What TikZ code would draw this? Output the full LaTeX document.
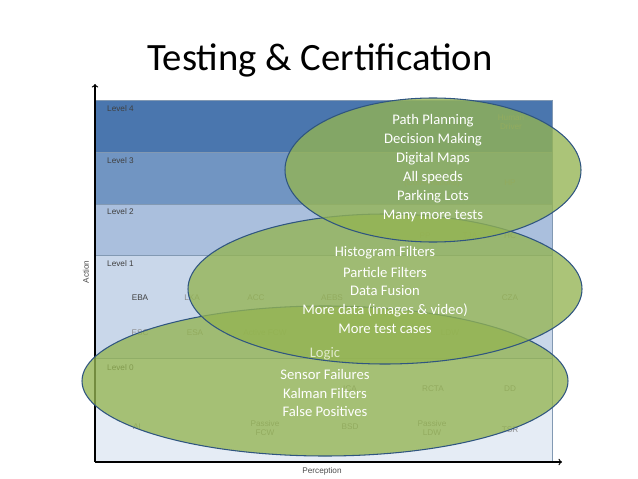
\documentclass[tikz,border=0pt]{standalone}
\usepackage{fontspec}
\setmainfont{Carlito}
\newfontfamily\chartfont{Liberation Sans}
\usetikzlibrary{positioning}
\definecolor{lvlfour}{HTML}{4A76AE}
\definecolor{lvlthree}{HTML}{7195C2}
\definecolor{lvltwo}{HTML}{AABFDD}
\definecolor{lvlone}{HTML}{C9D7EA}
\definecolor{lvlzero}{HTML}{E5ECF5}
\definecolor{blobfill}{HTML}{94B452}
\definecolor{blobline}{HTML}{2F5580}
\tikzset{
  band/.style = {draw=blobline!60, line width=0.5pt},
  tag/.style = {font=\chartfont\scriptsize, text=black!45, align=center, inner sep=0pt},
  lvl/.style = {font=\chartfont\scriptsize, text=black!75, anchor=west, inner sep=0pt},
  blob/.style = {fill=blobfill, fill opacity=0.78, draw=blobline, line width=0.9pt},
  say/.style = {font=\fontsize{12.5}{14}\selectfont, text=white, inner sep=0pt}
}
\begin{document}
\begin{tikzpicture}[x=0.03cm, y=-0.03cm]
\useasboundingbox (0,0) rectangle (638,479);
\node[font=\fontsize{33}{38}\selectfont] (title) at (320,60) {Testing \& Certification};
% levels
\fill[lvlfour] (95,100) rectangle (552,152);
\fill[lvlthree] (95,152) rectangle (552,204);
\fill[lvltwo] (95,204) rectangle (552,255);
\fill[lvlone] (95,255) rectangle (552,358);
\fill[lvlzero] (95,358) rectangle (552,462);
\foreach \yy in {100,152,204,255,358} \draw[band] (95,\yy) -- (552,\yy);
\draw[band] (552,100) -- (552,462);
\coordinate (origin) at (95,462);
\coordinate (ytop) at (95,84);
\coordinate (xend) at (562,462);
\draw[line width=1pt,->] (origin) -- (ytop);
\draw[line width=1pt,->] (origin) -- (xend);
\node[tag, rotate=90, text=black!70] (action) at (86,272) {Action};
\node[tag, text=black!70] (perc) at (322,471) {Perception};
\node[lvl] (l4) at (107,109) {Level 4};
\node[lvl] (l3) at (107,161) {Level 3};
\node[lvl] (l2) at (107,212) {Level 2};
\node[lvl] (l1) at (107,264) {Level 1};
\node[lvl] (l0) at (107,368) {Level 0};
\node[tag] (hd) at (511,122) {Human\\Driver};
\node[tag] (comb) at (432,183) {(Combinations)};
\node[tag] (hp) at (510,183) {HP};
\node[tag] (pa) at (378,236) {PA};
\node[tag] (pp) at (425,236) {PP};
\node[tag] (tja) at (470,236) {TJA};
\node[tag] (hc) at (510,236) {HC};
\node[tag, text=black!75] (eba) at (140,298) {EBA};
\node[tag] (lka) at (192,298) {LKA};
\node[tag] (acc) at (256,298) {ACC};
\node[tag] (aebs) at (332,298) {AEBS};
\node[tag] (cza) at (510,298) {CZA};
\node[tag] (esc) at (140,333) {ESC};
\node[tag] (esa) at (195,333) {ESA};
\node[tag] (afcw) at (265,333) {Active FCW};
\node[tag] (ldw) at (450,333) {LDW};
\node[tag] (ica) at (350,389) {ICA};
\node[tag] (rcta) at (433,389) {RCTA};
\node[tag] (dd) at (510,389) {DD};
\node[tag] (ai) at (137,427) {AI};
\node[tag] (pfcw) at (265,428) {Passive\\FCW};
\node[tag] (bsd) at (350,427) {BSD};
\node[tag] (pldw) at (432,428) {Passive\\LDW};
\node[tag] (tsr) at (510,430) {TSR};
% ellipses
\draw[blob] (325,381) ellipse (243 and 75);
\draw[blob] (385,289) ellipse (197 and 75);
\draw[blob] (433,170) ellipse (148 and 72);
% texts
\node[say] (pathp) at (433,121) {Path Planning};
\node[say] (decm) at (433,140) {Decision Making};
\node[say] (digm) at (433,159) {Digital Maps};
\node[say] (alls) at (433,178) {All speeds};
\node[say] (park) at (433,197) {Parking Lots};
\node[say] (many) at (433,216) {Many more tests};
\node[say] (hist) at (385,253) {Histogram Filters};
\node[say] (part) at (385,272) {Particle Filters};
\node[say] (fus) at (385,291) {Data Fusion};
\node[say] (more) at (385,310) {More data (images \& video)};
\node[say] (mtc) at (385,329) {More test cases};
\node[say, text=white!70!blobfill] (logic) at (325,354) {Logic};
\node[say] (sens) at (325,374) {Sensor Failures};
\node[say] (kal) at (325,393) {Kalman Filters};
\node[say] (fp) at (325,411) {False Positives};
\end{tikzpicture}
\end{document}
